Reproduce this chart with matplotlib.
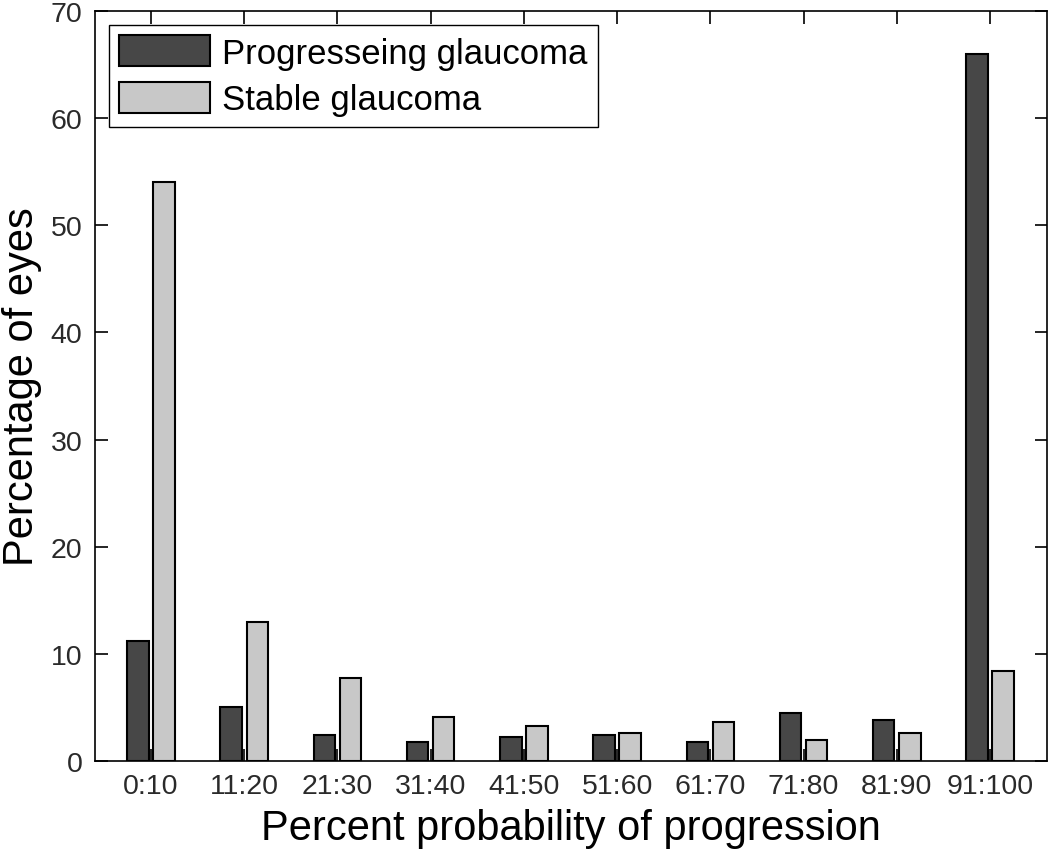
import matplotlib
matplotlib.use('Agg')
import matplotlib.pyplot as plt
import numpy as np

plt.rcParams['font.family'] = ['Liberation Sans', 'DejaVu Sans']

categories = ['0:10', '11:20', '21:30', '31:40', '41:50',
              '51:60', '61:70', '71:80', '81:90', '91:100']
progressing = [11.2, 5.0, 2.4, 1.8, 2.2, 2.4, 1.8, 4.5, 3.8, 66.0]
stable = [54.0, 13.0, 7.7, 4.1, 3.3, 2.6, 3.6, 2.0, 2.6, 8.4]

x = np.arange(1, len(categories) + 1)

fig = plt.figure(figsize=(10.5, 8.53), dpi=100)
ax = fig.add_axes([0.0905, 0.1067, 0.9065, 0.8793])

ax.bar(x - 0.14, progressing, width=0.23, color='#474747', edgecolor='black',
       linewidth=1.5, label='Progresseing glaucoma', zorder=3)
ax.bar(x + 0.14, stable, width=0.23, color='#c8c8c8', edgecolor='black',
       linewidth=1.5, label='Stable glaucoma', zorder=3)

ax.set_xlim(0.4, 10.61)
ax.set_ylim(0, 70)
ax.set_xticks(x)
ax.set_xticklabels(categories)
ax.set_yticks(range(0, 71, 10))
ax.tick_params(direction='in', length=9, width=1.2, top=True, right=True,
               labelsize=20.5, labelcolor='#2a2a2a', pad=9)
for s in ax.spines.values():
    s.set_linewidth(1.2)

ax.set_xlabel('Percent probability of progression', fontsize=30, labelpad=6)
ax.set_ylabel('Percentage of eyes', fontsize=30, labelpad=6)

leg = ax.legend(loc='upper left', fontsize=25, handlelength=2.6, handleheight=1.0,
                handletextpad=0.35, labelspacing=0.35, borderpad=0.3,
                borderaxespad=0.4, fancybox=False, framealpha=1)
leg.get_frame().set_edgecolor('black')
leg.get_frame().set_linewidth(1.0)

plt.savefig('out.png', dpi=100)
